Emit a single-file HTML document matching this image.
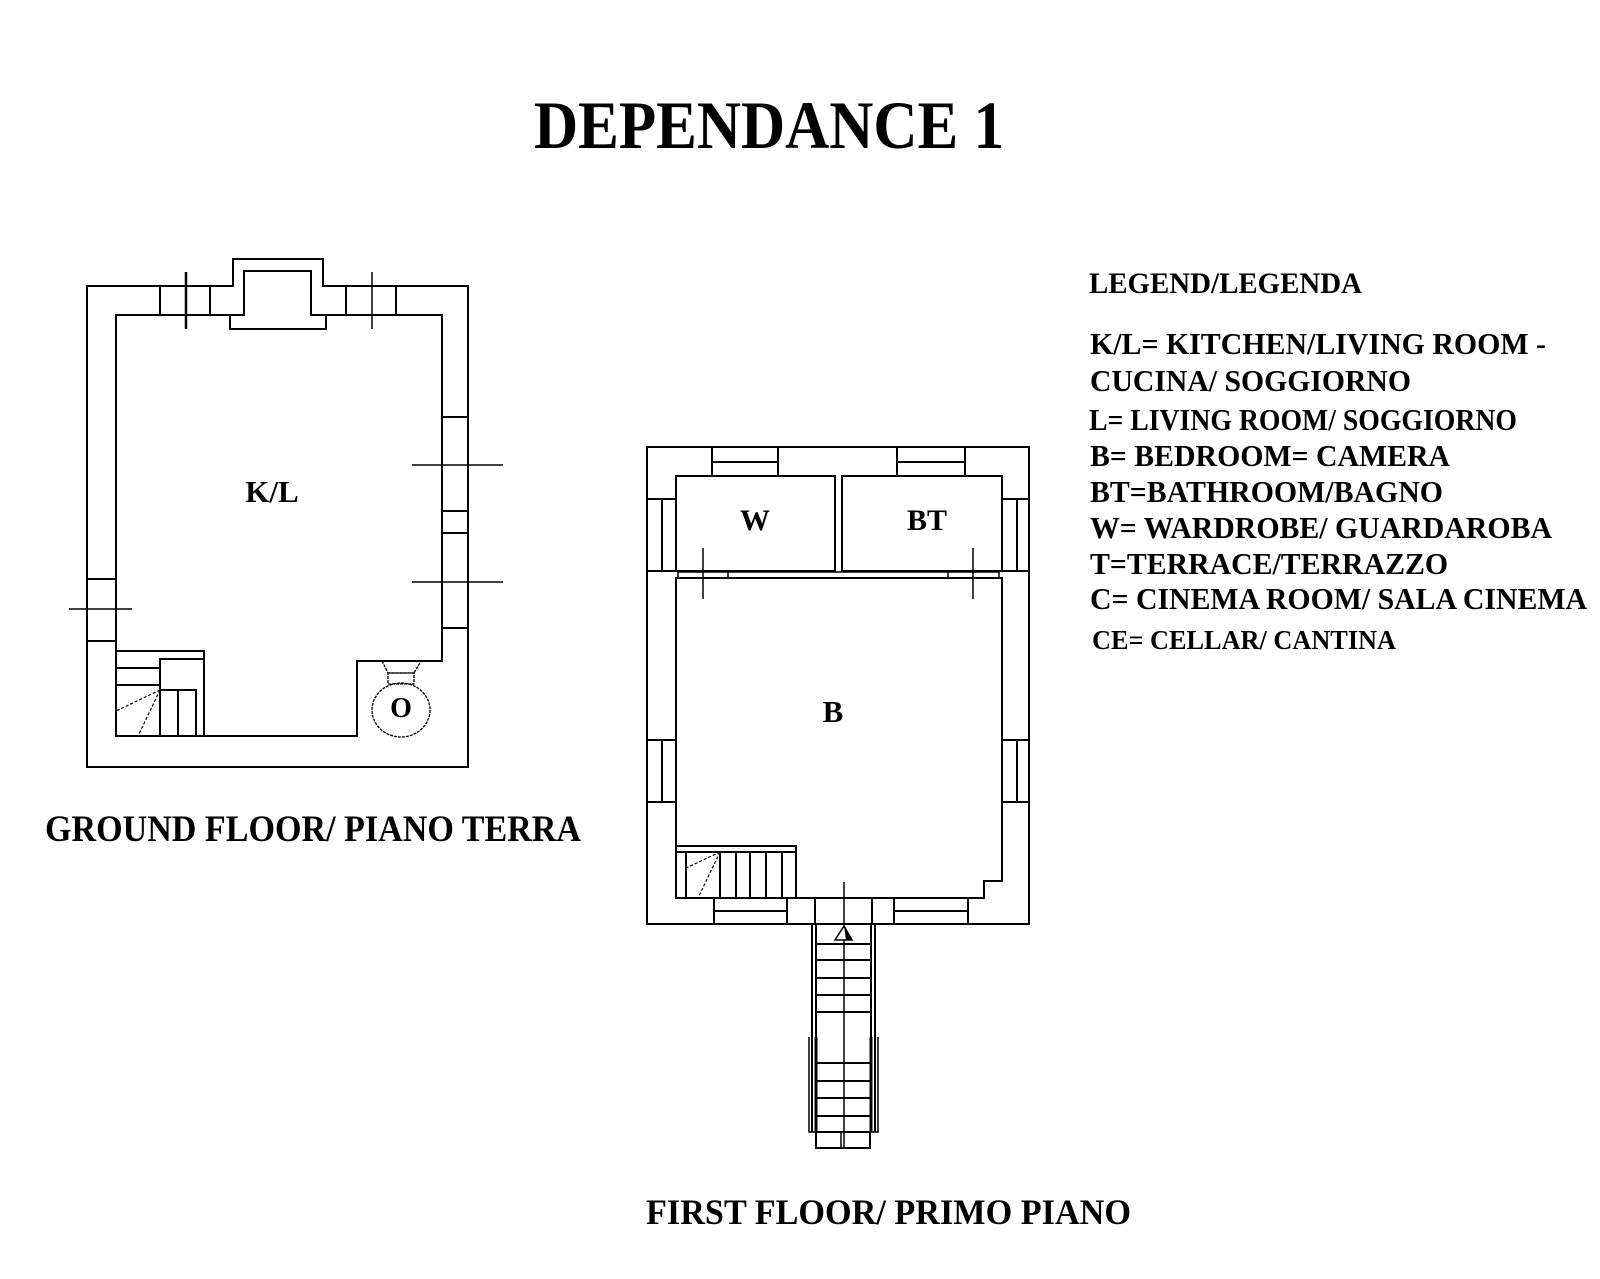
<!DOCTYPE html>
<html><head><meta charset="utf-8"><style>
html,body{margin:0;padding:0;background:#fff;}
svg{display:block;}
text{font-family:"Liberation Serif",serif;font-weight:bold;fill:#000;}
</style></head><body>
<svg width="1600" height="1279" viewBox="0 0 1600 1279" xmlns="http://www.w3.org/2000/svg">
<rect width="1600" height="1279" fill="#fff"/>
<text x="534" y="148" font-size="68" textLength="470" lengthAdjust="spacingAndGlyphs">DEPENDANCE 1</text>

<g fill="none" stroke="#000" stroke-width="2">
<!-- GROUND FLOOR -->
<path d="M233,286 H87 V767 H468 V286 H323 V259 H233 Z"/>
<path d="M116,315 H244 V271 H311 V315 H442 V661 H357 V736 H116 Z"/>
<path d="M244,315 H230 V329 H326 V315 H311"/>
<line x1="160" y1="286" x2="160" y2="315"/><line x1="210" y1="286" x2="210" y2="315"/>
<line x1="346" y1="286" x2="346" y2="315"/><line x1="396" y1="286" x2="396" y2="315"/>
<line x1="186" y1="272" x2="186" y2="329" stroke-width="2.5"/>
<line x1="372" y1="272" x2="372" y2="329" stroke-width="1.5"/>
<line x1="442" y1="417" x2="468" y2="417"/><line x1="442" y1="511" x2="468" y2="511"/>
<line x1="442" y1="533" x2="468" y2="533"/><line x1="442" y1="628" x2="468" y2="628"/>
<line x1="412" y1="465" x2="503" y2="465" stroke-width="1.5"/>
<line x1="412" y1="582" x2="503" y2="582" stroke-width="1.5"/>
<line x1="87" y1="579" x2="116" y2="579"/><line x1="87" y1="641" x2="116" y2="641"/>
<line x1="69" y1="609" x2="132" y2="609" stroke-width="1.5"/>
<!-- ground stairs -->
<path d="M116,651 H204 V736"/>
<path d="M204,659 H160 V736"/>
<line x1="116" y1="668" x2="160" y2="668"/><line x1="116" y1="685" x2="160" y2="685"/>
<rect x="160" y="690" width="36" height="46"/>
<line x1="178" y1="690" x2="178" y2="736"/>
<line x1="160" y1="690" x2="116" y2="711" stroke-width="1.2" stroke-dasharray="3,2"/>
<line x1="160" y1="690" x2="138" y2="736" stroke-width="1.2" stroke-dasharray="3,2"/>
<!-- toilet -->
<g stroke-width="1.3" stroke-dasharray="3,1">
<path d="M382,661 L388,673 H414 L421,661"/>
<rect x="388" y="673" width="26" height="11"/>
<ellipse cx="401" cy="710" rx="29" ry="27"/>
</g>

<!-- FIRST FLOOR -->
<rect x="647" y="447" width="382" height="477"/>
<rect x="676" y="476" width="159" height="95"/>
<rect x="842" y="476" width="160" height="95"/>
<path d="M676,578 H1002 V881 H984 V898 H676 Z"/>
<line x1="678" y1="572" x2="999" y2="572" stroke-width="1.5"/>
<line x1="678" y1="572" x2="678" y2="578" stroke-width="1.5"/>
<line x1="728" y1="572" x2="728" y2="578" stroke-width="1.5"/>
<line x1="948" y1="572" x2="948" y2="578" stroke-width="1.5"/>
<line x1="999" y1="572" x2="999" y2="578" stroke-width="1.5"/>
<line x1="703" y1="548" x2="703" y2="599" stroke-width="1.5"/>
<line x1="973" y1="548" x2="973" y2="599" stroke-width="1.5"/>
<path d="M712,447 V476 M778,447 V476 M712,462 H778"/>
<path d="M897,447 V476 M965,447 V476 M897,462 H965"/>
<path d="M647,499 H676 M647,571 H676 M662,499 V571"/>
<path d="M647,740 H676 M647,802 H676 M662,740 V802"/>
<path d="M1002,499 H1029 M1002,571 H1029 M1017,499 V571"/>
<path d="M1002,740 H1029 M1002,802 H1029 M1017,740 V802"/>
<path d="M714,898 V924 M787,898 V924 M714,911 H787"/>
<path d="M894,898 V924 M968,898 V924 M894,911 H968"/>
<path d="M815,898 V924 M872,898 V924"/>
<line x1="844" y1="882" x2="844" y2="1148" stroke-width="1.5"/>
<path d="M676,846 H796 V898 M676,852 H796"/>
<path d="M686,852 V898 M720,852 V898 M736,852 V898 M750,852 V898 M766,852 V898 M782,852 V898"/>
<line x1="720" y1="852" x2="686" y2="868" stroke-width="1.2" stroke-dasharray="3,2"/>
<line x1="720" y1="852" x2="698" y2="898" stroke-width="1.2" stroke-dasharray="3,2"/>
<!-- external stair -->
<path d="M812,924 V1132 M816,924 V1132 M871,924 V1132 M875,924 V1132"/>
<path d="M816,944 H871 M816,960 H871 M816,978 H871 M816,995 H871 M816,1012 H871"/>
<path d="M816,1063 H871 M816,1081 H871 M816,1098 H871 M816,1116 H871"/>
<path d="M809,1037 V1132 H878 V1037" stroke-width="1.5"/>
<line x1="816" y1="1037" x2="816" y2="1132" stroke-width="3"/>
<line x1="871" y1="1037" x2="871" y2="1132" stroke-width="3"/>
<rect x="816" y="1132" width="54" height="16"/>
<line x1="841" y1="1132" x2="841" y2="1148" stroke-width="1.5"/>
</g>
<path d="M844,926 L835,940 H852 Z" fill="#fff" stroke="#000" stroke-width="1.5"/>
<path d="M844,926 L852,940 H846 Z" fill="#000"/>

<text x="272" y="502" font-size="31" text-anchor="middle">K/L</text>
<text x="401" y="717" font-size="28" text-anchor="middle">O</text>
<text x="755" y="530" font-size="30" text-anchor="middle">W</text>
<text x="927" y="530" font-size="30" text-anchor="middle">BT</text>
<text x="833" y="722" font-size="31" text-anchor="middle">B</text>

<text x="45" y="841" font-size="37" textLength="536" lengthAdjust="spacingAndGlyphs">GROUND FLOOR/ PIANO TERRA</text>
<text x="646" y="1224" font-size="36" textLength="485" lengthAdjust="spacingAndGlyphs">FIRST FLOOR/ PRIMO PIANO</text>

<g font-size="31">
<text x="1089" y="293" font-size="30" textLength="273" lengthAdjust="spacingAndGlyphs">LEGEND/LEGENDA</text>
<text x="1090" y="354" textLength="456" lengthAdjust="spacingAndGlyphs">K/L= KITCHEN/LIVING ROOM -</text>
<text x="1090" y="391" textLength="321" lengthAdjust="spacingAndGlyphs">CUCINA/ SOGGIORNO</text>
<text x="1089" y="430" textLength="428" lengthAdjust="spacingAndGlyphs">L= LIVING ROOM/ SOGGIORNO</text>
<text x="1090" y="466" textLength="360" lengthAdjust="spacingAndGlyphs">B= BEDROOM= CAMERA</text>
<text x="1090" y="502" textLength="353" lengthAdjust="spacingAndGlyphs">BT=BATHROOM/BAGNO</text>
<text x="1090" y="538" textLength="462" lengthAdjust="spacingAndGlyphs">W= WARDROBE/ GUARDAROBA</text>
<text x="1090" y="574" textLength="358" lengthAdjust="spacingAndGlyphs">T=TERRACE/TERRAZZO</text>
<text x="1090" y="609" textLength="497" lengthAdjust="spacingAndGlyphs">C= CINEMA ROOM/ SALA CINEMA</text>
<text x="1092" y="649" font-size="27" textLength="304" lengthAdjust="spacingAndGlyphs">CE= CELLAR/ CANTINA</text>
</g>
</svg>
</body></html>
